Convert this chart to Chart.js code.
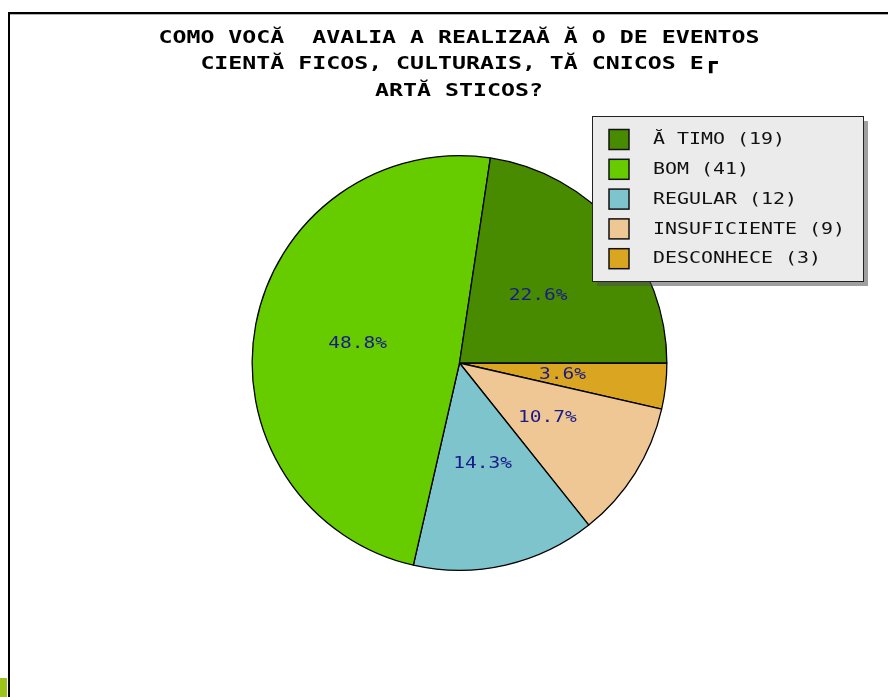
<!DOCTYPE html>
<html>
<head>
<meta charset="utf-8">
<script src="https://cdn.jsdelivr.net/npm/chart.js@4/dist/chart.umd.min.js"></script>
<style>
  body { margin: 0; background: #fff; }
  #wrap { position: relative; width: 888px; height: 697px; }
</style>
</head>
<body>
<div id="wrap"><canvas id="pie" width="888" height="697"></canvas></div>
<script>
// values
const categories = ['Ă TIMO', 'BOM', 'REGULAR', 'INSUFICIENTE', 'DESCONHECE'];
const counts = [19, 41, 12, 9, 3];
const colors = ['#488a00', '#66cc00', '#7ec4cc', '#eec795', '#daa520'];
const titleLines = [
  'COMO VOCĂ  AVALIA A REALIZAĂ Ă O DE EVENTOS',
  'CIENTĂ FICOS, CULTURAIS, TĂ CNICOS E┏',
  'ARTĂ STICOS?'
];

const total = counts.reduce((a, b) => a + b, 0);
const legendText = categories.map((c, i) => c + ' (' + counts[i] + ')');

// the original runs counter-clockwise from 3 o'clock, chart.js goes clockwise,
// so feed the slices reversed
const rev = (arr) => arr.slice().reverse();

// the source font is a wide bitmap one, so stretch a mono font sideways
function wideText(ctx, text, x, y, sx) {
  ctx.save();
  ctx.translate(x, y);
  ctx.scale(sx, 1);
  ctx.fillText(text, 0, 0);
  ctx.restore();
}

const framePlugin = {
  id: 'frame',
  beforeDraw(chart) {
    const ctx = chart.ctx;
    ctx.save();
    ctx.fillStyle = '#000';
    ctx.fillRect(8, 12, 880, 2);
    ctx.fillRect(8, 12, 2, 685);
    ctx.fillStyle = '#b0b0b0';
    ctx.fillRect(10, 14, 878, 1);
    ctx.fillStyle = '#9cc31c';
    ctx.fillRect(0, 678, 7, 19);
    ctx.restore();
  }
};

const titlePlugin = {
  id: 'bigTitle',
  afterDraw(chart) {
    const ctx = chart.ctx;
    ctx.save();
    ctx.font = 'bold 18px "DejaVu Sans Mono"';
    ctx.fillStyle = '#000';
    ctx.textAlign = 'center';
    ctx.textBaseline = 'middle';
    titleLines.forEach((line, i) => {
      wideText(ctx, line, 459, 38 + i * 26.5, 1.29);
    });
    ctx.restore();
  }
};

const sliceLabels = {
  id: 'sliceLabels',
  afterDatasetsDraw(chart) {
    const ctx = chart.ctx;
    const meta = chart.getDatasetMeta(0);
    const values = chart.data.datasets[0].data;
    ctx.save();
    ctx.font = '16px "DejaVu Sans Mono"';
    ctx.fillStyle = '#1a1a8a';
    ctx.textAlign = 'center';
    ctx.textBaseline = 'middle';
    meta.data.forEach((arc, i) => {
      const p = arc.getCenterPoint();
      const pct = (values[i] / total * 100).toFixed(1) + '%';
      wideText(ctx, pct, p.x, p.y, 1.22);
    });
    ctx.restore();
  }
};

const boxLegend = {
  id: 'boxLegend',
  afterDraw(chart) {
    const ctx = chart.ctx;
    const x = 592, y = 116, w = 271, h = 165;
    ctx.save();
    ctx.fillStyle = 'rgba(80,80,80,0.55)';
    ctx.fillRect(x + 5, y + 5, w, h);
    ctx.fillStyle = '#ebebeb';
    ctx.fillRect(x, y, w, h);
    ctx.strokeStyle = '#222';
    ctx.lineWidth = 1;
    ctx.strokeRect(x + 0.5, y + 0.5, w, h);

    ctx.font = '16px "DejaVu Sans Mono"';
    ctx.textBaseline = 'middle';
    ctx.textAlign = 'left';
    legendText.forEach((t, i) => {
      const cy = 139 + i * 29.8;
      ctx.fillStyle = colors[i];
      ctx.fillRect(609, cy - 9.5, 20, 20);
      ctx.strokeStyle = '#111';
      ctx.lineWidth = 1.5;
      ctx.strokeRect(609, cy - 9.5, 20, 20);
      ctx.fillStyle = '#111';
      wideText(ctx, t, 653, cy + 1, 1.245);
    });
    ctx.restore();
  }
};

new Chart(document.getElementById('pie'), {
  type: 'pie',
  data: {
    labels: rev(legendText),
    datasets: [{
      data: rev(counts),
      backgroundColor: rev(colors),
      borderColor: '#000',
      borderWidth: 1.3
    }]
  },
  options: {
    responsive: false,
    animation: false,
    rotation: 90,
    layout: { padding: { left: 251.5, top: 155, right: 220.5, bottom: 126 } },
    plugins: {
      legend: { display: false },
      title: { display: false },
      tooltip: { enabled: false }
    }
  },
  plugins: [framePlugin, sliceLabels, boxLegend, titlePlugin]
});
</script>
</body>
</html>
